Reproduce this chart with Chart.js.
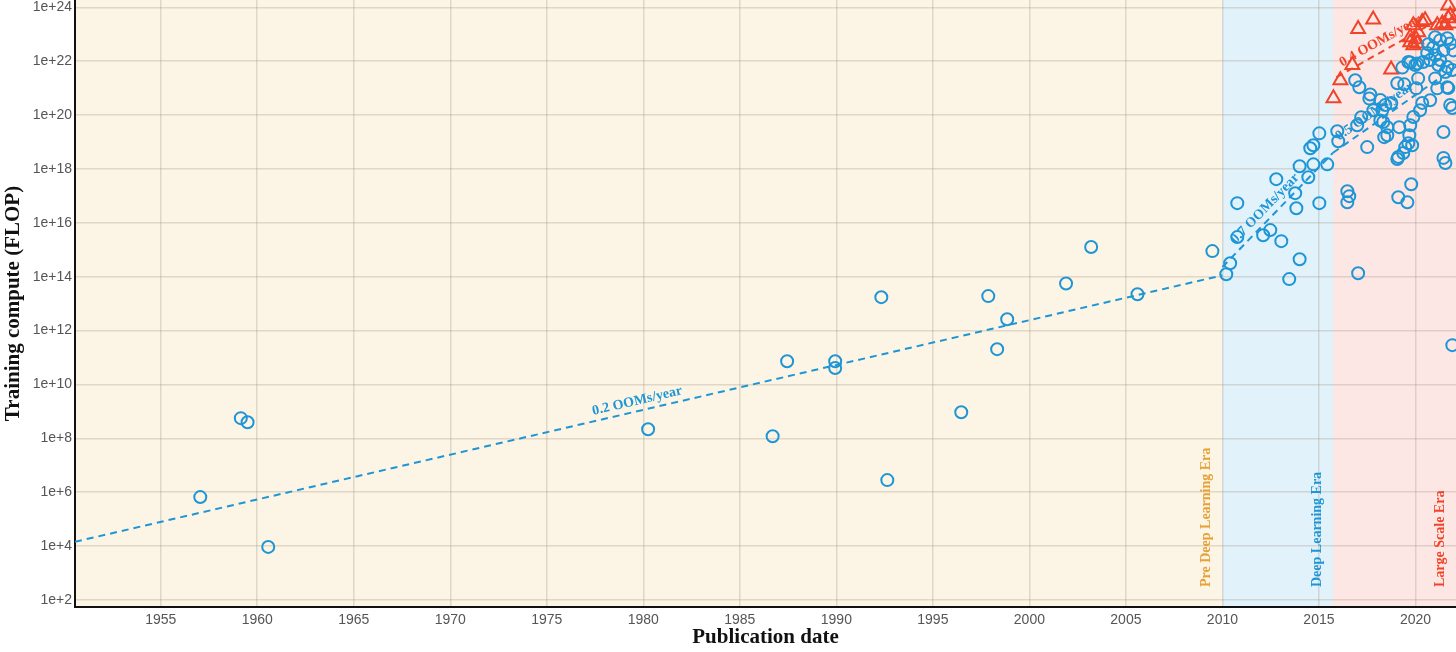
<!DOCTYPE html>
<html>
<head>
<meta charset="utf-8">
<title>Training compute of milestone ML systems</title>
<script src="https://cdn.jsdelivr.net/npm/chart.js@4.4.1/dist/chart.umd.min.js"></script>
<style>
    html, body { margin: 0; padding: 0; background: #ffffff; overflow: hidden; }
    #wrap { width: 1456px; height: 652px; }
</style>
</head>
<body>
<div id="wrap"><canvas id="computeChart" width="1456" height="652"></canvas></div>
<script>
// axis ticks
const xTickYears = [1955, 1960, 1965, 1970, 1975, 1980, 1985, 1990, 1995, 2000, 2005, 2010, 2015, 2020];
const yTickFlop = [1e2, 1e4, 1e6, 1e8, 1e10, 1e12, 1e14, 1e16, 1e18, 1e20, 1e22, 1e24];

// eras
const eraNames = ['Pre Deep Learning Era', 'Deep Learning Era', 'Large Scale Era'];
const eraStart = [1950, 2010, 2015.73];
const eraEnd = [2010, 2015.73, 2023];

// regular-scale systems (blue circles): publication year, log10 of training FLOP
const regularYears = [
    1957.05, 1959.15, 1959.5, 1960.57, 1980.25, 1986.7, 1987.45, 1989.94, 1989.94, 1992.33,
    1992.64, 1996.47, 1997.87, 1998.33, 1998.85, 2001.9, 2003.2, 2005.6, 2009.48,
    2010.2, 2010.4, 2010.77, 2010.77, 2012.11, 2012.48, 2012.79, 2013.05, 2013.46, 2013.77,
    2013.83, 2014.0, 2014.0, 2014.45, 2014.55, 2014.71, 2014.71, 2015.02, 2015.02, 2015.43,
    2015.95, 2016.0, 2016.47, 2016.57, 2016.47, 2016.88, 2017.09, 2017.03, 2017.5, 2017.66,
    2017.61, 2017.82, 2017.19, 2016.98, 2018.18, 2018.28, 2018.33, 2018.54, 2018.54, 2018.18,
    2018.44, 2018.75, 2018.38, 2019.16, 2019.06, 2019.42, 2019.32, 2019.73, 2020.09, 2020.14,
    2020.61, 2021.02, 2021.65, 2021.8, 2020.76, 2020.35, 2020.24, 2019.89, 2021.45, 2021.45,
    2021.55, 2019.47, 2019.11, 2019.68, 2019.83, 2019.37, 2019.06, 2019.73, 2019.63, 2019.11,
    2019.58, 2019.78, 2021.91, 2021.02, 2021.28, 2021.65, 2021.45, 2021.02, 2021.28, 2021.65,
    2021.91, 2021.55, 2021.19, 2020.76, 2020.4, 2019.99, 2019.63, 2020.92, 2021.8, 2021.96,
    2021.7, 2020.66, 2021.91, 2021.13, 2020.04
];
const regularLogFlop = [
    5.82, 8.75, 8.6, 3.97, 8.34, 8.08, 10.86, 10.86, 10.61, 13.24,
    6.45, 8.97, 13.28, 11.31, 12.42, 13.75, 15.1, 13.35, 14.95,
    14.09, 14.5, 15.47, 16.73, 15.54, 15.73, 17.62, 15.32, 13.91, 17.1,
    16.54, 18.1, 14.65, 17.69, 18.77, 18.88, 18.17, 19.32, 16.73, 18.17,
    19.4, 19.03, 17.17, 16.99, 16.76, 21.29, 21.03, 14.13, 18.81, 20.76,
    20.61, 20.18, 19.92, 19.62, 20.56, 20.18, 19.74, 19.55, 19.25, 19.8,
    20.37, 20.45, 19.18, 19.55, 21.18, 21.14, 21.76, 21.95, 21.91, 21.36,
    22.3, 21.36, 21.03, 20.37, 20.55, 20.45, 20.18, 19.93, 19.37, 18.41,
    18.22, 18.81, 18.44, 19.25, 18.88, 18.59, 18.37, 19.62, 18.95, 16.95,
    16.76, 17.43, 11.46, 22.89, 22.78, 22.85, 22.4, 22.22, 22.04, 21.78,
    21.67, 21.6, 21.86, 22.04, 21.97, 21.86, 21.97, 22.51, 22.66, 22.4,
    21.0, 22.63, 20.26, 20.99, 20.99
];

// large-scale systems (red triangles)
const largeYears = [
    2015.75, 2016.11, 2016.73, 2017.03, 2017.81, 2018.74, 2019.73, 2019.73, 2019.89, 2019.89,
    2020.14, 2020.04, 2020.09, 2020.5, 2020.35, 2021.13, 2021.39, 2021.55, 2021.7, 2021.7,
    2021.8, 2021.91
];
const largeLogFlop = [
    20.62, 21.29, 21.86, 23.19, 23.55, 21.69, 22.89, 22.7, 22.59, 23.33,
    23.07, 22.81, 22.66, 23.52, 23.45, 23.33, 23.4, 23.33, 24.07, 23.59,
    23.7, 23.4
];

// fitted trends
const trendNames = ['0.2 OOMs/year', '0.7 OOMs/year', '0.5 OOMs/year', '0.4 OOMs/year'];
const trendFromYear = [1950.56, 2010.0, 2015.73, 2015.9];
const trendFromLog = [4.16, 14.36, 18.6, 21.4];
const trendToYear = [2010.0, 2015.73, 2022.1, 2022.1];
const trendToLog = [14.05, 18.6, 21.8, 23.9];
const trendLabelYear = [1979.8, 2012.58, 2018.18, 2018.44];

const BLUE = '#1E96D6';
const RED = '#F0442A';
const eraFill = ['#FCF4E4', '#E1F2FA', '#FDE7E4'];
const eraInk = ['#E6A137', BLUE, RED];
const trendInk = [BLUE, BLUE, BLUE, RED];
const serif = '"Liberation Serif", "DejaVu Serif", serif';

const toPoints = (years, logs) => years.map((x, i) => ({x: x, y: Math.pow(10, logs[i])}));

const trendDatasets = trendNames.map((name, i) => ({
    label: name,
    data: [
        {x: trendFromYear[i], y: Math.pow(10, trendFromLog[i])},
        {x: trendToYear[i], y: Math.pow(10, trendToLog[i])}
    ],
    showLine: true,
    borderColor: trendInk[i],
    borderWidth: 2,
    borderDash: [7, 5],
    pointRadius: 0,
    fill: false
}));

const eraPlugin = {
    id: 'eras',
    beforeDraw(chart) {
        const {ctx, chartArea, scales: {x}} = chart;
        ctx.save();
        eraNames.forEach((name, i) => {
            const left = Math.max(x.getPixelForValue(eraStart[i]), chartArea.left);
            const right = Math.min(x.getPixelForValue(eraEnd[i]), chartArea.right);
            ctx.fillStyle = eraFill[i];
            ctx.fillRect(left, chartArea.top, right - left, chartArea.bottom - chartArea.top);
        });
        ctx.restore();
    },
    beforeDatasetsDraw(chart) {
        const {ctx, chartArea, scales: {x}} = chart;
        ctx.save();
        ctx.font = 'bold 14px ' + serif;
        ctx.textAlign = 'left';
        ctx.textBaseline = 'middle';
        eraNames.forEach((name, i) => {
            const right = Math.min(x.getPixelForValue(eraEnd[i]), chartArea.right);
            ctx.save();
            ctx.translate(right - 16, chartArea.bottom - 20);
            ctx.rotate(-Math.PI / 2);
            ctx.fillStyle = eraInk[i];
            ctx.fillText(name, 0, 0);
            ctx.restore();
        });
        ctx.restore();
    }
};

const trendLabelPlugin = {
    id: 'trendLabels',
    afterDatasetsDraw(chart) {
        const {ctx, scales: {x, y}} = chart;
        ctx.save();
        ctx.font = 'bold 14px ' + serif;
        ctx.textAlign = 'center';
        ctx.textBaseline = 'middle';
        trendNames.forEach((name, i) => {
            const x0 = x.getPixelForValue(trendFromYear[i]);
            const y0 = y.getPixelForValue(Math.pow(10, trendFromLog[i]));
            const x1 = x.getPixelForValue(trendToYear[i]);
            const y1 = y.getPixelForValue(Math.pow(10, trendToLog[i]));
            const t = (trendLabelYear[i] - trendFromYear[i]) / (trendToYear[i] - trendFromYear[i]);
            const lx = x0 + (x1 - x0) * t;
            const ly = y0 + (y1 - y0) * t;
            ctx.save();
            ctx.translate(lx, ly);
            ctx.rotate(Math.atan2(y1 - y0, x1 - x0));
            ctx.fillStyle = trendInk[i];
            ctx.fillText(name, 0, -10);
            ctx.restore();
        });
        ctx.restore();
    }
};

const gridColor = 'rgba(150, 135, 120, 0.27)';
const tickFont = {family: '"Liberation Sans", Arial, sans-serif', size: 14};

new Chart(document.getElementById('computeChart'), {
    type: 'scatter',
    data: {
        datasets: [
            ...trendDatasets,
            {
                label: 'Regular scale',
                data: toPoints(regularYears, regularLogFlop),
                pointStyle: 'circle',
                pointRadius: 6,
                borderWidth: 2,
                borderColor: BLUE,
                backgroundColor: 'rgba(0,0,0,0)'
            },
            {
                label: 'Large scale',
                data: toPoints(largeYears, largeLogFlop),
                pointStyle: 'triangle',
                pointRadius: 8,
                borderWidth: 2,
                borderColor: RED,
                backgroundColor: 'rgba(0,0,0,0)'
            }
        ]
    },
    options: {
        responsive: false,
        animation: false,
        devicePixelRatio: 1,
        layout: {padding: 0, autoPadding: false},
        plugins: {
            legend: {display: false},
            tooltip: {enabled: false}
        },
        scales: {
            x: {
                type: 'linear',
                min: 1950.56,
                max: 2022.1,
                afterBuildTicks: scale => { scale.ticks = xTickYears.map(v => ({value: v})); },
                afterFit: scale => { scale.height = 45; scale.paddingLeft = 0; scale.paddingRight = 0; },
                grid: {color: gridColor, lineWidth: 1.5, drawTicks: false},
                border: {color: '#111111', width: 2},
                ticks: {
                    color: '#555555',
                    font: tickFont,
                    padding: 5,
                    autoSkip: false,
                    maxRotation: 0,
                    callback: value => String(value)
                },
                title: {
                    display: true,
                    text: 'Publication date',
                    color: '#111111',
                    font: {family: serif, size: 21, weight: 'bold'},
                    padding: {top: 0, bottom: 2}
                }
            },
            y: {
                type: 'logarithmic',
                min: Math.pow(10, 1.74),
                max: Math.pow(10, 24.27),
                afterBuildTicks: scale => { scale.ticks = yTickFlop.map(v => ({value: v})); },
                afterFit: scale => { scale.width = 75; scale.paddingTop = 0; scale.paddingBottom = 0; },
                grid: {color: gridColor, lineWidth: 1.5, drawTicks: false},
                border: {color: '#111111', width: 2},
                ticks: {
                    color: '#555555',
                    font: tickFont,
                    padding: 3,
                    autoSkip: false,
                    callback: value => '1e+' + Math.round(Math.log10(value))
                },
                title: {
                    display: true,
                    text: 'Training compute (FLOP)',
                    color: '#111111',
                    font: {family: serif, size: 21, weight: 'bold'},
                    padding: {top: 1, bottom: 0}
                }
            }
        }
    },
    plugins: [eraPlugin, trendLabelPlugin]
});
</script>
</body>
</html>
